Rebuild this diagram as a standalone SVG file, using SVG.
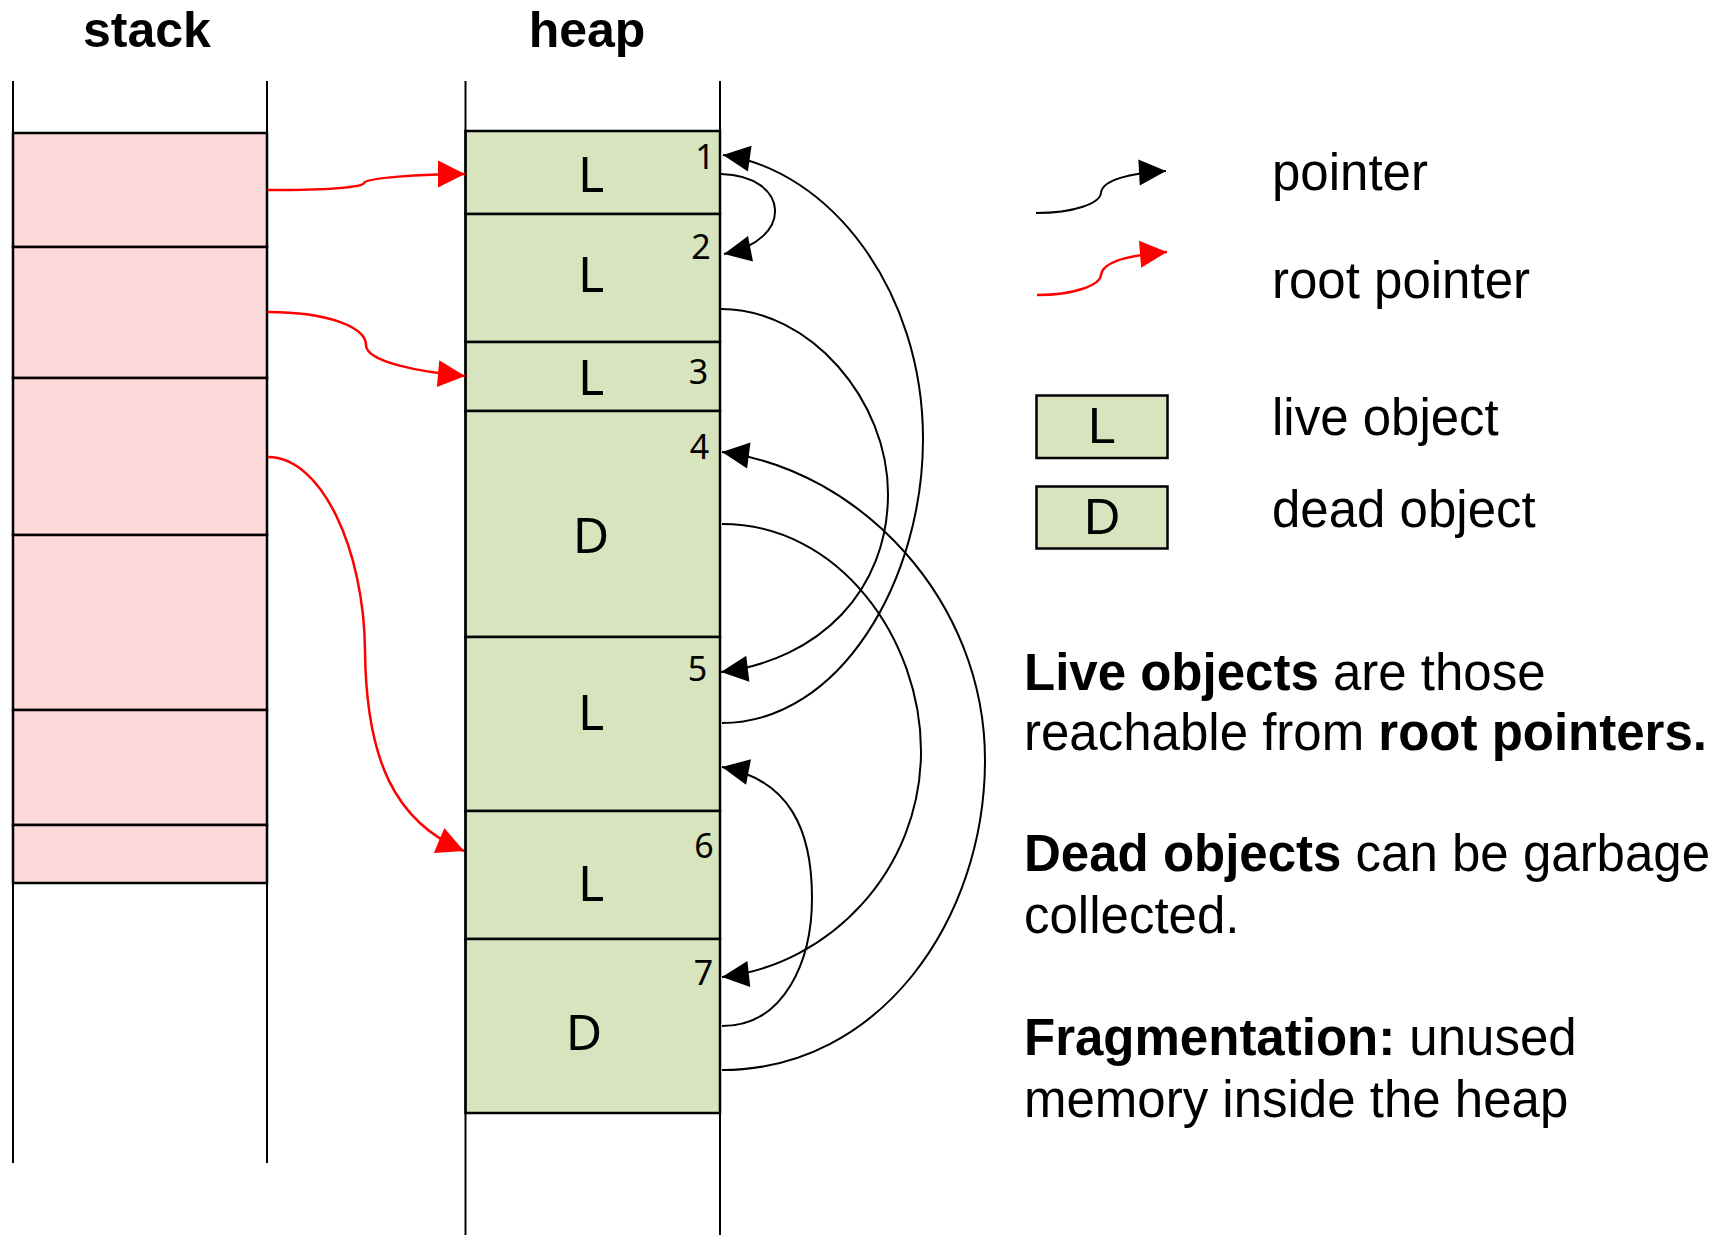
<svg xmlns="http://www.w3.org/2000/svg" width="1722" height="1235" viewBox="0 0 1722 1235">
<defs>
<style>
.title{font-family:"Liberation Sans",Arial,sans-serif;font-weight:bold;font-size:50px;text-anchor:middle;fill:#000}
.txt{font-family:"Liberation Sans",Arial,sans-serif;font-size:51px;fill:#000}
.b{font-weight:bold}
.lbl{font-family:"Noto Sans","Open Sans",sans-serif;font-size:50px;text-anchor:middle;fill:#000}
.num{font-family:"Noto Sans","Open Sans",sans-serif;font-size:34px;text-anchor:middle;fill:#000}
.leg{font-family:"Liberation Sans",Arial,sans-serif;font-size:50px;text-anchor:middle;fill:#000}
.sc{fill:#FDD9D9;stroke:#000;stroke-width:2.5}
.hc{fill:#D7E4BD;stroke:#000;stroke-width:2.5}
.wall{stroke:#000;stroke-width:2;fill:none}
.ptr{fill:none;stroke:#000;stroke-width:2}
.root{fill:none;stroke:#FF0000;stroke-width:2.5}
</style>
<marker id="ab" markerUnits="userSpaceOnUse" markerWidth="30" markerHeight="30" refX="27" refY="13" orient="auto" overflow="visible"><path d="M0,0 L27,13 L0,26 z" fill="#000"/></marker>
<marker id="ar" markerUnits="userSpaceOnUse" markerWidth="30" markerHeight="30" refX="27" refY="13.5" orient="auto" overflow="visible"><path d="M0,0 L27,13.5 L0,27 z" fill="#FF0000"/></marker>
</defs>
<rect x="0" y="0" width="1722" height="1235" fill="#fff"/>

<text class="title" x="147" y="47">stack</text>
<text class="title" x="587" y="47">heap</text>

<g id="stack">
<rect class="sc" x="13" y="133" width="254" height="114"/>
<rect class="sc" x="13" y="247" width="254" height="131"/>
<rect class="sc" x="13" y="378" width="254" height="157"/>
<rect class="sc" x="13" y="535" width="254" height="175"/>
<rect class="sc" x="13" y="710" width="254" height="115"/>
<rect class="sc" x="13" y="825" width="254" height="58"/>
<line class="wall" x1="13" y1="81" x2="13" y2="1163"/>
<line class="wall" x1="267" y1="81" x2="267" y2="1163"/>
</g>

<g id="heap">
<g id="obj1"><rect class="hc" x="465.5" y="131" width="254.5" height="83"/><text class="lbl" x="591" y="192">L</text><text class="num" x="705" y="169">1</text></g>
<g id="obj2"><rect class="hc" x="465.5" y="214" width="254.5" height="128"/><text class="lbl" x="591" y="292">L</text><text class="num" x="701" y="259">2</text></g>
<g id="obj3"><rect class="hc" x="465.5" y="342" width="254.5" height="69"/><text class="lbl" x="591" y="395">L</text><text class="num" x="698.5" y="384">3</text></g>
<g id="obj4"><rect class="hc" x="465.5" y="411" width="254.5" height="226"/><text class="lbl" x="591" y="553">D</text><text class="num" x="699.5" y="459">4</text></g>
<g id="obj5"><rect class="hc" x="465.5" y="637" width="254.5" height="174"/><text class="lbl" x="591" y="730">L</text><text class="num" x="697.5" y="681">5</text></g>
<g id="obj6"><rect class="hc" x="465.5" y="811" width="254.5" height="128"/><text class="lbl" x="591" y="901">L</text><text class="num" x="704" y="858">6</text></g>
<g id="obj7"><rect class="hc" x="465.5" y="939" width="254.5" height="174"/><text class="lbl" x="584" y="1050">D</text><text class="num" x="703.5" y="985">7</text></g>
<line class="wall" x1="465.5" y1="81" x2="465.5" y2="1235"/>
<line class="wall" x1="720" y1="81" x2="720" y2="1235"/>
</g>

<g id="connectors">
<path class="root" marker-end="url(#ar)" d="M268 190 C320 190 362 188 364 183 C366 178 420 174 465 174"/>
<path class="root" marker-end="url(#ar)" d="M268 312 C330 312 366 328 366 345 C366 362 420 372 465 376"/>
<path class="root" marker-end="url(#ar)" d="M268 457 C322 457 364 550 365 650 C366 760 395 822 464 851"/>
<path class="ptr" marker-end="url(#ab)" d="M721 174 C790 176 795 240 724 254"/>
<path class="ptr" marker-end="url(#ab)" d="M721 309 C810 309 888 400 888 494 C888 590 820 660 721 672"/>
<path class="ptr" marker-end="url(#ab)" d="M722 723 C840 723 923 580 923 439 C923 290 830 170 723 155"/>
<path class="ptr" marker-end="url(#ab)" d="M722 524 C840 524 921 640 921 751 C921 870 830 965 722 977"/>
<path class="ptr" marker-end="url(#ab)" d="M722 1070 C880 1070 985 920 985 760 C985 600 860 470 722 452"/>
<path class="ptr" marker-end="url(#ab)" d="M722 1026 C785 1026 812 960 812 898 C812 830 790 780 722 767"/>
</g>

<g id="legend">
<g id="leg-pointer"><path class="ptr" marker-end="url(#ab)" d="M1036 213 C1075 213 1100 203 1101 193 C1102 180 1130 173 1166 171"/><text class="txt" x="1272" y="190">pointer</text></g>
<g id="leg-root"><path class="root" marker-end="url(#ar)" d="M1037 295 C1075 295 1100 285 1101 275 C1102 262 1130 255 1167 252"/><text class="txt" x="1272" y="298">root pointer</text></g>
<g id="leg-live"><rect class="hc" x="1036.5" y="395.5" width="131" height="62.5"/><text class="leg" x="1102" y="443">L</text><text class="txt" x="1272" y="435">live object</text></g>
<g id="leg-dead"><rect class="hc" x="1036.5" y="486.5" width="131" height="62"/><text class="leg" x="1102" y="534">D</text><text class="txt" x="1272" y="527">dead object</text></g>
</g>

<g id="notes">
<text class="txt" x="1024" y="690"><tspan class="b">Live objects</tspan> are those</text>
<text class="txt" x="1024" y="750">reachable from <tspan class="b">root pointers.</tspan></text>
<text class="txt" x="1024" y="871"><tspan class="b">Dead objects</tspan> can be garbage</text>
<text class="txt" x="1024" y="933">collected.</text>
<text class="txt" x="1024" y="1055"><tspan class="b">Fragmentation:</tspan> unused</text>
<text class="txt" x="1024" y="1117">memory inside the heap</text>
</g>
</svg>
